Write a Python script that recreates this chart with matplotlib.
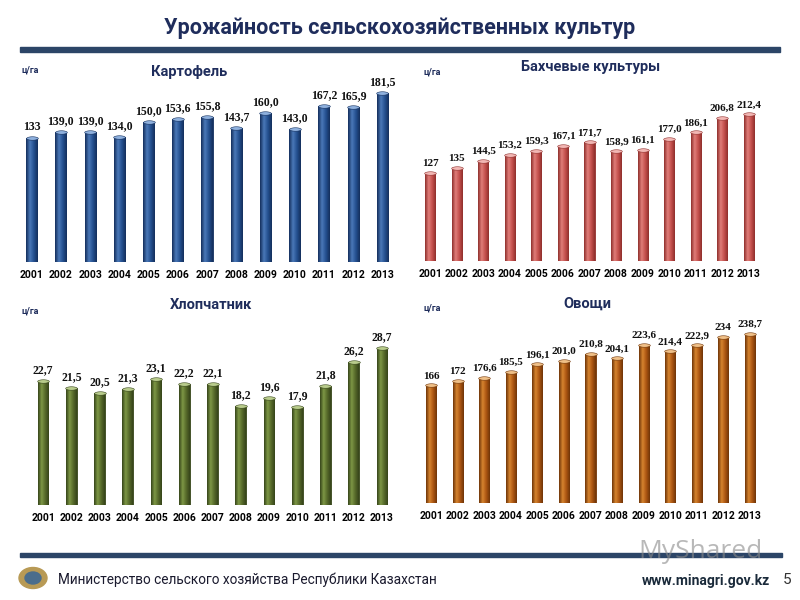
import matplotlib.pyplot as plt
import numpy as np
from matplotlib.colors import LinearSegmentedColormap
from matplotlib.path import Path
from matplotlib.patches import Circle, Rectangle

# ---------- data ----------
years = ['2001', '2002', '2003', '2004', '2005', '2006', '2007',
         '2008', '2009', '2010', '2011', '2012', '2013']

potato_lbl = ['133', '139,0', '139,0', '134,0', '150,0', '153,6', '155,8',
              '143,7', '160,0', '143,0', '167,2', '165,9', '181,5']
melons_lbl = ['127', '135', '144,5', '153,2', '159,3', '167,1', '171,7',
              '158,9', '161,1', '177,0', '186,1', '206,8', '212,4']
cotton_lbl = ['22,7', '21,5', '20,5', '21,3', '23,1', '22,2', '22,1',
              '18,2', '19,6', '17,9', '21,8', '26,2', '28,7']
veg_lbl = ['166', '172', '176,6', '185,5', '196,1', '201,0', '210,8',
           '204,1', '223,6', '214,4', '222,9', '234', '238,7']

titles = ['Картофель', 'Бахчевые культуры', 'Хлопчатник', 'Овощи']
unit = 'ц/га'

NAVY = '#1f2d5c'
LINE = '#2c4567'
SANS = ['Roboto', 'DejaVu Sans']
SERIF = ['Liberation Serif', 'DejaVu Serif']

W, H = 800, 600
fig = plt.figure(figsize=(8, 6), dpi=100)
fig.patch.set_facecolor('white')


def fx(px):
    return px / W


def fy(py):
    return 1 - py / H


def ellipse_marker():
    t = np.linspace(0, 2 * np.pi, 40)
    verts = np.column_stack([np.cos(t), 0.3 * np.sin(t)])
    return Path(verts, closed=True)


# ---------- one panel: bars drawn with cylinder look ----------
def panel(labels, left, right, base, scale, cols, title, tx, ty, ux, uy, lsize):
    h_px = 185
    ax = fig.add_axes([fx(left), fy(base), (right - left) / W, h_px / H])
    vals = [float(s.replace(',', '.')) for s in labels]
    x = np.arange(len(vals))
    bars = ax.bar(x, vals, width=0.38, color=cols[0], edgecolor=cols[1],
                  linewidth=0.6, zorder=2)
    cmap = LinearSegmentedColormap.from_list(
        'cyl', [cols[1], cols[2], cols[0], cols[1]])
    grad = np.linspace(0, 1, 64).reshape(1, -1)
    for b in bars:
        bx, bw, bh = b.get_x(), b.get_width(), b.get_height()
        im = ax.imshow(grad, cmap=cmap, aspect='auto', zorder=3,
                       extent=[bx, bx + bw, 0, bh])
        im.set_clip_path(b)
    ax.scatter(x, vals, marker=ellipse_marker(), s=70, color=cols[3],
               edgecolor=cols[1], linewidth=0.4, zorder=4)
    for xi, v, s in zip(x, vals, labels):
        ax.annotate(s, (xi, v), xytext=(0, 3.5), textcoords='offset points',
                    ha='center', va='bottom', fontsize=lsize,
                    fontweight='bold', family=SERIF, color='#111111')
    ax.set_xlim(-0.5, len(vals) - 0.5)
    ax.set_ylim(0, h_px / scale)
    ax.set_xticks(x)
    ax.set_xticklabels(years, fontsize=7.5, fontweight='bold', family=SANS)
    ax.tick_params(axis='x', length=0, pad=6)
    ax.set_yticks([])
    for sp in ax.spines.values():
        sp.set_visible(False)
    ax.patch.set_alpha(0)
    fig.text(fx(tx), fy(ty), title, ha='center', va='center', fontsize=10.5,
             fontweight='bold', color=NAVY, family=SANS)
    fig.text(fx(ux), fy(uy), unit, ha='left', va='center', fontsize=6.5,
             fontweight='bold', color=NAVY, family=SANS)
    return ax


panel(potato_lbl, 17, 397, 262, 0.933,
      ['#24508f', '#142f5c', '#4a78b8', '#8fb1de'],
      titles[0], 189, 72, 22, 70, 8.5)
panel(melons_lbl, 417, 762, 261, 0.691,
      ['#c4504d', '#8f2f2c', '#e07d79', '#f2b7b4'],
      titles[1], 591, 67, 423, 72, 8)
panel(cotton_lbl, 29, 396, 505, 5.46,
      ['#56692a', '#36441a', '#7d9745', '#b9cc8c'],
      titles[2], 211, 305, 22, 311, 8.5)
panel(veg_lbl, 418, 763, 503, 0.708,
      ['#ab5512', '#6f3508', '#d6842f', '#f0c088'],
      titles[3], 587, 304, 423, 308, 8)

# ---------- header ----------
fig.text(0.5, fy(28), 'Урожайность сельскохозяйственных культур',
         ha='center', va='center', fontsize=15.5, fontweight='bold',
         color=NAVY, family=SANS)
fig.add_artist(Rectangle((fx(20), fy(52)), fx(760), 5 / H,
                         color=LINE, transform=fig.transFigure))

# ---------- footer ----------
fig.add_artist(Rectangle((fx(20), fy(557)), fx(762), 4 / H,
                         color=LINE, transform=fig.transFigure))
fig.text(fx(638), fy(552), 'MyShared', ha='left', va='center', fontsize=19,
         color='#8a8a8a', alpha=0.6, family=['Open Sans', 'DejaVu Sans'])
fig.add_artist(Circle((fx(33), fy(578)), 14 / W, color='#b89a55',
                      transform=fig.transFigure))
fig.add_artist(Circle((fx(33), fy(578)), 8 / W, color='#4a6d8c',
                      transform=fig.transFigure))
fig.text(fx(58), fy(580), 'Министерство сельского хозяйства Республики Казахстан',
         ha='left', va='center', fontsize=9.8, color='#1a1a2e', family=SANS)
fig.text(fx(770), fy(581), 'www.minagri.gov.kz', ha='right', va='center',
         fontsize=10, fontweight='bold', color='#1a2a3a', family=SANS)
fig.text(fx(787), fy(580), '5', ha='center', va='center', fontsize=11,
         color='#333333', family=SANS)

fig.savefig('out.png', dpi=100)
